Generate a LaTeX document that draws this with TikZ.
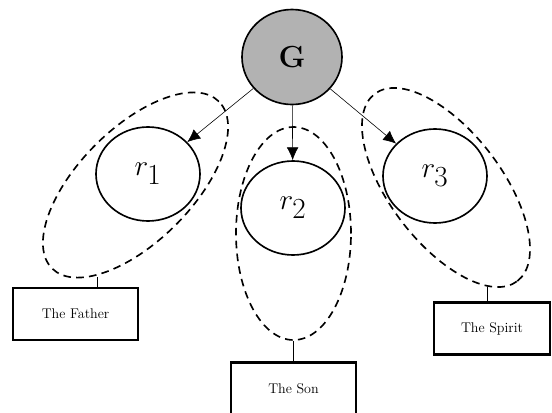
\documentclass[tikz,border=0pt]{standalone}
\usetikzlibrary{shapes.geometric,arrows.meta}
\begin{document}
\begin{tikzpicture}[x=0.03cm,y=-0.03cm,
  person/.style={draw,ellipse,line width=1.4pt,inner sep=0pt,minimum width=3.12cm,minimum height=2.82cm,font=\fontsize{34}{34}\selectfont},
  group/.style={draw,ellipse,line width=1.4pt,dash pattern=on 6.5pt off 4.5pt,inner sep=0pt},
  namebox/.style={draw,line width=2.4pt,inner sep=0pt,minimum height=1.56cm,font=\fontsize{12}{14}\selectfont},
  link/.style={line width=0.5pt}]
\useasboundingbox (0,0) rectangle (552,412);
\node[draw,ellipse,fill=black!30,line width=1.4pt,inner sep=0pt,minimum width=3cm,minimum height=2.85cm,font=\fontsize{26}{26}\selectfont\bfseries] (G) at (292,57) {G};
\node[person] (r1) at (148,174) {$r_{1}$};
\node[person] (r2) at (293,208) {$r_{2}$};
\node[person] (r3) at (435,176) {$r_{3}$};
\draw [link,-{Latex[length=11pt,width=10pt]}] (G) -- (r1);
\draw [link,-{Latex[length=11pt,width=10pt]}] (G) -- (r2);
\draw [link,-{Latex[length=11pt,width=10pt]}] (G) -- (r3);
% dashed groups
\node[group,minimum width=7.08cm,minimum height=3.4cm,rotate=45] (fathergroup) at (135.5,185) {};
\node[group,minimum width=3.45cm,minimum height=6.39cm] (songroup) at (293.5,233.5) {};
\node[group,minimum width=7.06cm,minimum height=3.35cm,rotate=-52.7] (spiritgroup) at (446,187.5) {};
% names
\node[namebox,minimum width=3.75cm] (father) at (75.5,314) {The Father};
\node[namebox,minimum width=3.75cm] (son) at (293.5,388.5) {The Son};
\node[namebox,minimum width=3.48cm] (spirit) at (492,328.5) {The Spirit};
\coordinate (fatherend) at (97,277);
\coordinate (spiritend) at (487,287);
\draw [link] (fatherend) -- (fatherend |- father.north);
\draw [link] (songroup.south) -- (son.north);
\draw [link] (spiritend) -- (spiritend |- spirit.north);
\end{tikzpicture}
\end{document}
